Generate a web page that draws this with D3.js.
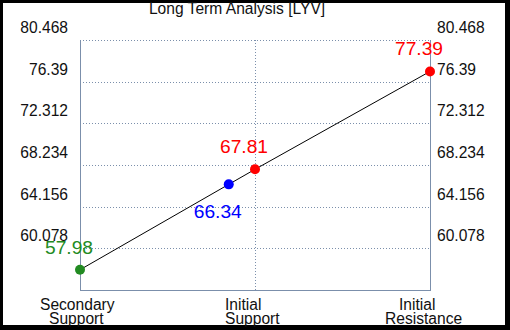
<!DOCTYPE html>
<html>
<head>
<meta charset="utf-8">
<script src="https://cdn.jsdelivr.net/npm/d3@7"></script>
<style>
  body { margin: 0; padding: 0; background: #000; }
  svg { display: block; font-family: "Liberation Sans", Arial, sans-serif; }
</style>
</head>
<body>
<svg id="chart" width="510" height="330"></svg>
<script>
var title = 'Long Term Analysis [LYV]';
var categories = ['Secondary Support', 'Initial Support', 'Initial Resistance'];
var tickLabels = ['80.468', '76.39', '72.312', '68.234', '64.156', '60.078'];
var yMin = 56.0;

var pointX = [0, 0.85, 1, 2];
var pointValues = [57.98, 66.34, 67.81, 77.39];
var pointColors = ['#228b22', '#0000ff', '#ff0000', '#ff0000'];
var labelBelow = [false, true, false, false];

var W = 510, H = 330;
var plot = {left: 80, top: 40, right: 430, bottom: 290};
var axisColor = '#7b8fab';

var svg = d3.select('#chart');

// black frame, white page
svg.append('rect').attr('width', W).attr('height', H).attr('fill', '#000');
svg.append('rect').attr('x', 3).attr('y', 3).attr('width', 502).attr('height', 322).attr('fill', '#fff');

var tickValues = tickLabels.map(Number);

var x = d3.scaleLinear().domain([0, categories.length - 1]).range([plot.left, plot.right]);
var y = d3.scaleLinear().domain([yMin, d3.max(tickValues)]).range([plot.bottom, plot.top]);

// horizontal dotted grid (the top one doubles as the frame top)
svg.append('g').selectAll('line')
    .data(tickValues)
    .enter().append('line')
    .attr('x1', plot.left).attr('x2', plot.right)
    .attr('y1', function(d) { return Math.round(y(d)) + 0.5; })
    .attr('y2', function(d) { return Math.round(y(d)) + 0.5; })
    .attr('stroke', axisColor)
    .attr('stroke-dasharray', '1,2');

// vertical dotted grid on the inner categories
svg.append('g').selectAll('line')
    .data(d3.range(1, categories.length - 1))
    .enter().append('line')
    .attr('x1', function(d) { return Math.round(x(d)) + 0.5; })
    .attr('x2', function(d) { return Math.round(x(d)) + 0.5; })
    .attr('y1', plot.top).attr('y2', plot.bottom)
    .attr('stroke', axisColor)
    .attr('stroke-dasharray', '1,2');

// solid left, right and bottom edges
var edges = [
    [plot.left + 0.5, plot.top, plot.left + 0.5, plot.bottom],
    [plot.right + 0.5, plot.top, plot.right + 0.5, plot.bottom],
    [plot.left, plot.bottom + 0.5, plot.right + 1, plot.bottom + 0.5]
];
svg.append('g').selectAll('line')
    .data(edges)
    .enter().append('line')
    .attr('x1', function(d) { return d[0]; })
    .attr('y1', function(d) { return d[1]; })
    .attr('x2', function(d) { return d[2]; })
    .attr('y2', function(d) { return d[3]; })
    .attr('stroke', axisColor);

// tick labels sit a little above their grid line, on both sides
var tickFont = '15.6px';
svg.append('g').selectAll('text')
    .data(tickLabels)
    .enter().append('text')
    .attr('x', plot.left - 12)
    .attr('y', function(d) { return y(+d) - 7; })
    .attr('text-anchor', 'end')
    .attr('font-size', tickFont)
    .attr('fill', '#111')
    .text(function(d) { return d; });

svg.append('g').selectAll('text')
    .data(tickLabels)
    .enter().append('text')
    .attr('x', plot.right + 7)
    .attr('y', function(d) { return y(+d) - 7; })
    .attr('text-anchor', 'start')
    .attr('font-size', tickFont)
    .attr('fill', '#111')
    .text(function(d) { return d; });

// category labels, two lines each; per-line start offsets from the tick
var catOffsets = [[-40, -31], [-30, -30], [-31, -45]];
var catGroups = svg.append('g').selectAll('g')
    .data(categories)
    .enter().append('g');

catGroups.each(function(d, i) {
    var words = d.split(' ');
    var g = d3.select(this);
    words.forEach(function(w, j) {
        g.append('text')
            .attr('x', x(i) + catOffsets[i][j])
            .attr('y', 310 + j * 14)
            .attr('text-anchor', 'start')
            .attr('font-size', tickFont)
            .attr('fill', '#111')
            .text(w);
    });
});

// title
svg.append('text')
    .attr('x', 237)
    .attr('y', 14)
    .attr('text-anchor', 'middle')
    .attr('font-size', tickFont)
    .attr('fill', '#111')
    .text(title);

// connecting line
var points = pointValues.map(function(v, i) { return {x: pointX[i], v: v, color: pointColors[i], below: labelBelow[i]}; });

svg.append('path')
    .datum(points)
    .attr('fill', 'none')
    .attr('stroke', '#000')
    .attr('stroke-width', 1)
    .attr('d', d3.line()
        .x(function(d) { return x(d.x); })
        .y(function(d) { return y(d.v); }));

svg.append('g').selectAll('circle')
    .data(points)
    .enter().append('circle')
    .attr('cx', function(d) { return x(d.x); })
    .attr('cy', function(d) { return y(d.v); })
    .attr('r', 5)
    .attr('fill', function(d) { return d.color; });

svg.append('g').selectAll('text')
    .data(points)
    .enter().append('text')
    .attr('x', function(d) { return x(d.x) - 11; })
    .attr('y', function(d) { return y(d.v) + (d.below ? 34 : -16); })
    .attr('text-anchor', 'middle')
    .attr('font-size', '19.2px')
    .attr('fill', function(d) { return d.color; })
    .text(function(d) { return d.v.toFixed(2); });
</script>
</body>
</html>
